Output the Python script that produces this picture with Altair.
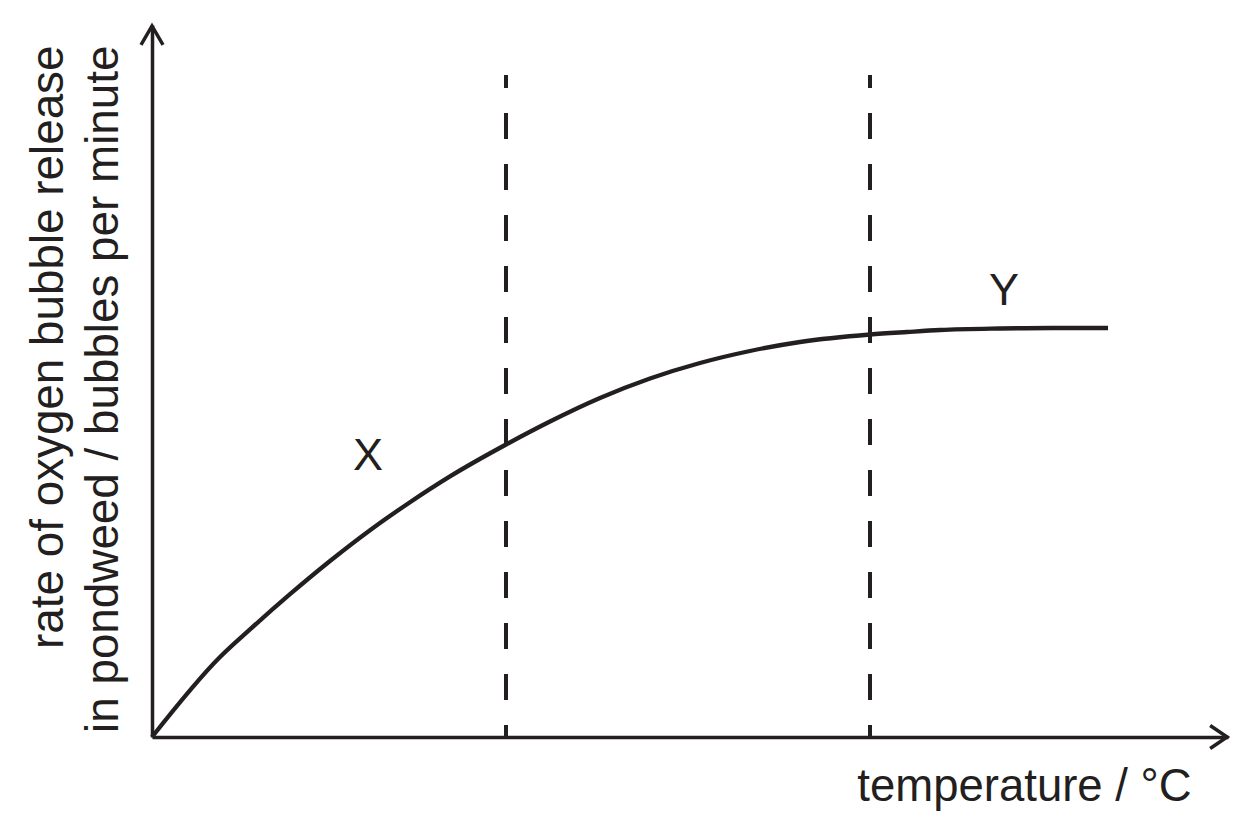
import altair as alt
import pandas as pd

INK = "#231f20"
FONT = "Liberation Sans"

# curve (arbitrary units, no tick values in the original)
temperature = [0, 68, 98, 138, 178, 218, 258, 298, 355, 398, 448, 498, 548,
               598, 648, 718, 755, 788, 848, 900, 956]
rate = [0, 80, 107.6, 142.8, 176, 206.8, 234.8, 260.6, 293, 315.5, 339, 358.5,
        374, 386, 395, 402.5, 405, 407, 408.5, 409, 409]

# dashed vertical guide lines
guide_x = [354, 718]
guide_top = [662, 662]
guide_bottom = [0, 0]

# region labels
label_text = ["X", "Y"]
label_x = [216, 852]
label_y = [267, 432]

# axis extents (arrow tips)
x_max = 1076
y_max = 712

curve_df = pd.DataFrame({"temperature": temperature, "rate": rate})
guide_df = pd.DataFrame({"gx": guide_x, "top": guide_top, "bottom": guide_bottom})
label_df = pd.DataFrame({"label": label_text, "lx": label_x, "ly": label_y})
yarrow_df = pd.DataFrame({"ax": [0], "ay": [y_max]})
xarrow_df = pd.DataFrame({"ax": [x_max], "ay": [0]})

xs = alt.Scale(domain=[0, x_max], nice=False, zero=False)
ys = alt.Scale(domain=[0, y_max], nice=False, zero=False)

x_axis = alt.Axis(
    title="temperature / °C", domain=True, ticks=False, labels=False, grid=False,
    titleX=872, titleY=63, titleAlign="center", titleBaseline="alphabetic", titleAngle=0,
    titleFontSize=45.5,
)
y_axis = alt.Axis(
    title=["rate of oxygen bubble release", "in pondweed / bubbles per minute"],
    domain=True, ticks=False, labels=False, grid=False,
    titleX=-90, titleY=20, titleAlign="right", titleBaseline="alphabetic",
    titleAngle=270, titleLineHeight=55, titleFontSize=45.8,
)

curve = alt.Chart(curve_df).mark_line(
    color=INK, strokeWidth=4.3, interpolate="monotone"
).encode(
    x=alt.X("temperature:Q", scale=xs, axis=x_axis),
    y=alt.Y("rate:Q", scale=ys, axis=y_axis),
)

guides = alt.Chart(guide_df).mark_rule(
    color=INK, strokeWidth=4, strokeDash=[26, 25], strokeDashOffset=13
).encode(
    x=alt.X("gx:Q", scale=xs),
    y=alt.Y("top:Q", scale=ys),
    y2="bottom:Q",
)

labels = alt.Chart(label_df).mark_text(
    font=FONT, fontSize=45, color=INK, align="center", baseline="alphabetic"
).encode(
    x=alt.X("lx:Q", scale=xs),
    y=alt.Y("ly:Q", scale=ys),
    text="label:N",
)

y_arrow = alt.Chart(yarrow_df).mark_point(
    shape="M-0.579,1.05L0,0.05L0.579,1.05", size=1444, filled=False,
    stroke=INK, strokeWidth=3.5, opacity=1,
).encode(x=alt.X("ax:Q", scale=xs), y=alt.Y("ay:Q", scale=ys))

x_arrow = alt.Chart(xarrow_df).mark_point(
    shape="M-1.05,-0.68L-0.05,0L-1.05,0.68", size=1156, filled=False,
    stroke=INK, strokeWidth=3.5, opacity=1,
).encode(x=alt.X("ax:Q", scale=xs), y=alt.Y("ay:Q", scale=ys))

chart = alt.layer(curve, guides, labels, y_arrow, x_arrow).properties(
    width=1076, height=712,
    autosize=alt.AutoSizeParams(type="none"),
    padding={"left": 144, "top": 17, "right": 18, "bottom": 84},
    background="white",
).configure_view(strokeWidth=0).configure_axis(
    domainColor=INK, domainWidth=3.5,
    titleFont=FONT, titleFontWeight="normal", titleColor=INK,
)

chart.save("out.html", embed_options={"renderer": "svg", "actions": False})
